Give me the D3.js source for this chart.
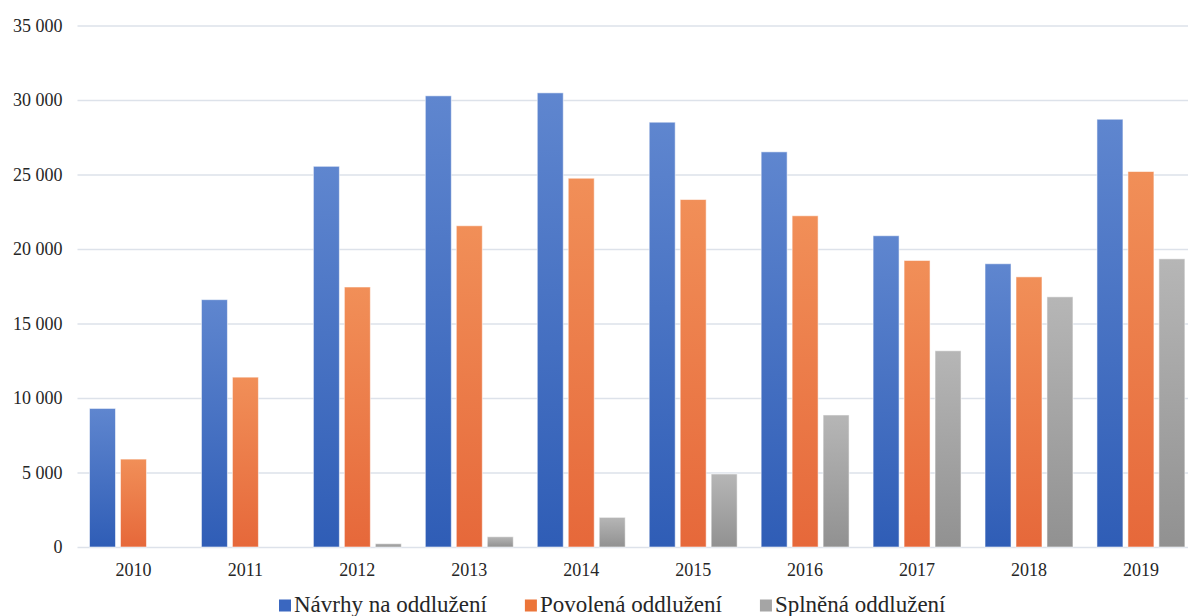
<!DOCTYPE html>
<html>
<head>
<meta charset="utf-8">
<script src="https://cdn.jsdelivr.net/npm/d3@7"></script>
<style>
  html, body { margin: 0; padding: 0; background: #fff; }
  svg { display: block; }
  svg text { font-family: "Liberation Serif", "Times New Roman", "DejaVu Serif", "Noto Serif", serif !important; fill: #262626; }
</style>
</head>
<body>
<svg id="chart" width="1188" height="616"></svg>
<script>
const years = ["2010","2011","2012","2013","2014","2015","2016","2017","2018","2019"];
const seriesNames = ["Návrhy na oddlužení", "Povolená oddlužení", "Splněná oddlužení"];
const navrhy   = [9300, 16600, 25550, 30280, 30480, 28510, 26520, 20890, 19010, 28710];
const povolena = [5900, 11400, 17450, 21560, 24750, 23320, 22230, 19230, 18130, 25200];
const splnena  = [0, 0, 230, 690, 1990, 4900, 8860, 13170, 16790, 19340];
const yTicks = [0, 5000, 10000, 15000, 20000, 25000, 30000, 35000];

const seriesValues = [navrhy, povolena, splnena];
const gradStops = [
  ["#5f86cf", "#2f5db6"],
  ["#f18f58", "#e6683a"],
  ["#b6b6b6", "#919191"]
];
const legendColors = ["#3a67c0", "#ec7539", "#a5a5a5"];

const svg = d3.select("#chart");
const plotLeft = 77.5, plotRight = 1196.9, yZero = 547, yTop = 25.5;

const x0 = d3.scaleBand().domain(years).range([plotLeft, plotRight])
  .paddingInner(0.2144).paddingOuter(0.1072);
const x1 = d3.scaleBand().domain(d3.range(3)).range([0, x0.bandwidth()]).paddingInner(0.161);
const y = d3.scaleLinear().domain([0, 35000]).range([yZero, yTop]);

const defs = svg.append("defs");
gradStops.forEach((s, i) => {
  const g = defs.append("linearGradient").attr("id", "g" + i)
    .attr("x1", 0).attr("y1", 0).attr("x2", 0).attr("y2", 1);
  g.append("stop").attr("offset", "0%").attr("stop-color", s[0]);
  g.append("stop").attr("offset", "100%").attr("stop-color", s[1]);
});

const fmt = v => d3.format(",")(v).replace(/,/g, " ");
const yAxis = d3.axisLeft(y).tickValues(yTicks).tickSize(-(plotRight - plotLeft)).tickFormat(fmt).tickPadding(15);
const gy = svg.append("g").attr("transform", `translate(${plotLeft},0)`).call(yAxis)
  .attr("font-family", null);
gy.select(".domain").remove();
gy.selectAll(".tick line").attr("stroke", "#dde2ea").attr("stroke-width", 1.5);
gy.selectAll(".tick text").attr("font-size", 18).attr("fill", "#262626");

const groups = svg.append("g").selectAll("g").data(years).join("g")
  .attr("transform", d => `translate(${x0(d)},0)`);
groups.selectAll("rect")
  .data((d, yi) => seriesValues.map((arr, si) => ({ si, v: arr[yi] })).filter(o => o.v > 0))
  .join("rect")
  .attr("x", d => x1(d.si))
  .attr("width", x1.bandwidth())
  .attr("y", d => y(d.v))
  .attr("height", d => yZero - y(d.v))
  .attr("fill", d => `url(#g${d.si})`)
  .attr("stroke", "rgba(255,255,255,0.55)")
  .attr("stroke-width", 1);

const xAxis = d3.axisBottom(x0).tickSize(0).tickPadding(16);
const gx = svg.append("g").attr("transform", `translate(0,${yZero})`).call(xAxis)
  .attr("font-family", null);
gx.select(".domain").remove();
gx.selectAll(".tick text").attr("font-size", 18).attr("fill", "#262626");

const legend = svg.append("g").attr("transform", "translate(279,611.5)");
let lx = 0;
seriesNames.forEach((name, i) => {
  const item = legend.append("g").attr("transform", `translate(${lx},0)`);
  item.append("rect").attr("x", 0).attr("y", -12).attr("width", 12).attr("height", 12).attr("fill", legendColors[i]);
  const t = item.append("text").attr("x", 15).attr("y", 0).attr("font-size", 23).text(name);
  lx += 15 + t.node().getComputedTextLength() + 38;
});
</script>
</body>
</html>
